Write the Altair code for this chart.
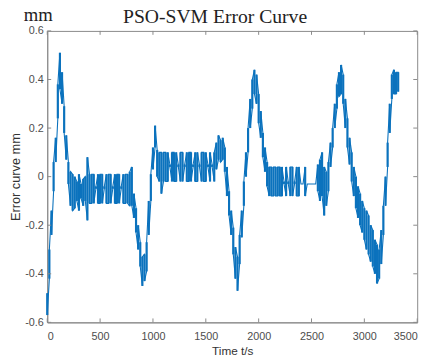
import altair as alt
import pandas as pd

# sample times (s)
time_s = [
    0, 20, 40, 60, 80, 100, 120, 140, 160, 180,
    200, 220, 240, 260, 280, 300, 320, 340, 360, 380,
    400, 420, 440, 460, 480, 500, 520, 540, 560, 580,
    600, 620, 640, 660, 680, 700, 720, 740, 760, 780,
    800, 820, 840, 860, 880, 900, 920, 940, 960, 980,
    1000, 1020, 1040, 1060, 1080, 1100, 1120, 1140, 1160, 1180,
    1200, 1220, 1240, 1260, 1280, 1300, 1320, 1340, 1360, 1380,
    1400, 1420, 1440, 1460, 1480, 1500, 1520, 1540, 1560, 1580,
    1600, 1620, 1640, 1660, 1680, 1700, 1720, 1740, 1760, 1780,
    1800, 1820, 1840, 1860, 1880, 1900, 1920, 1940, 1960, 1980,
    2000, 2020, 2040, 2060, 2080, 2100, 2120, 2140, 2160, 2180,
    2200, 2220, 2240, 2260, 2280, 2300, 2320, 2340, 2360, 2380,
    2400, 2420, 2440, 2460, 2480, 2500, 2520, 2540, 2560, 2580,
    2600, 2620, 2640, 2660, 2680, 2700, 2720, 2740, 2760, 2780,
    2800, 2820, 2840, 2860, 2880, 2900, 2920, 2940, 2960, 2980,
    3000, 3020, 3040, 3060, 3080, 3100, 3120, 3140, 3160, 3180,
    3200, 3220, 3240, 3260, 3280, 3300, 3320,
]

# lower swing of the error at each sample (mm)
err_low = [
    -0.57, -0.42, -0.24, -0.06, 0.06, 0.24, 0.36, 0.30, 0.18, 0.07,
    -0.03, -0.12, -0.14, -0.13, -0.10, -0.14, -0.09, -0.12, -0.10, -0.18,
    -0.11, -0.11, -0.11, -0.05, -0.11, -0.11, -0.11, -0.05, -0.11, -0.11,
    -0.11, -0.05, -0.11, -0.11, -0.11, -0.05, -0.11, -0.11, -0.11, -0.12,
    -0.12, -0.17, -0.23, -0.30, -0.37, -0.45, -0.43, -0.39, -0.24, -0.10,
    0.03, 0.12, 0.00, -0.02, -0.07, -0.02, -0.02, -0.02, 0.04, -0.02,
    -0.02, -0.02, 0.04, -0.02, -0.02, 0.04, -0.02, -0.02, -0.02, 0.04,
    -0.02, -0.02, 0.04, -0.02, -0.02, -0.02, 0.04, -0.02, 0.04, -0.02,
    0.03, 0.07, 0.06, 0.07, 0.02, -0.08, -0.16, -0.24, -0.32, -0.42,
    -0.47, -0.36, -0.25, -0.12, 0.00, 0.10, 0.20, 0.28, 0.34, 0.30,
    0.22, 0.16, 0.08, 0.02, -0.04, -0.08, -0.08, -0.08, -0.08, -0.08,
    -0.08, -0.08, -0.03, -0.08, -0.03, -0.08, -0.08, -0.03, -0.08, -0.08,
    -0.03, -0.03, -0.08, -0.03, -0.03, -0.03, -0.03, -0.03, -0.06, -0.10,
    -0.08, -0.16, -0.12, -0.06, 0.04, 0.12, 0.20, 0.28, 0.33, 0.34,
    0.30, 0.20, 0.12, 0.05, -0.02, -0.08, -0.13, -0.17, -0.20, -0.23,
    -0.26, -0.30, -0.32, -0.35, -0.37, -0.40, -0.44, -0.42, -0.36, -0.24,
    -0.12, 0.04, 0.18, 0.32, 0.34, 0.34, 0.35,
]

# upper swing of the error at each sample (mm)
err_high = [
    -0.48, -0.30, -0.14, 0.06, 0.16, 0.38, 0.51, 0.43, 0.29, 0.17,
    0.06, 0.02, 0.01, 0.00, -0.02, 0.01, -0.03, -0.01, 0.00, 0.08,
    0.01, 0.01, 0.01, -0.04, 0.01, 0.01, 0.01, -0.04, 0.01, 0.01,
    0.01, -0.04, 0.01, 0.01, 0.01, -0.04, 0.01, 0.01, 0.01, 0.02,
    0.04, -0.07, -0.13, -0.20, -0.27, -0.33, -0.32, -0.27, -0.10, 0.01,
    0.12, 0.21, 0.11, 0.10, 0.10, 0.10, 0.10, 0.10, 0.05, 0.10,
    0.10, 0.10, 0.05, 0.10, 0.10, 0.05, 0.10, 0.10, 0.10, 0.05,
    0.10, 0.10, 0.05, 0.10, 0.10, 0.10, 0.05, 0.10, 0.05, 0.10,
    0.14, 0.17, 0.15, 0.16, 0.12, 0.04, -0.06, -0.14, -0.21, -0.29,
    -0.33, -0.24, -0.14, -0.02, 0.10, 0.20, 0.32, 0.40, 0.44, 0.42,
    0.34, 0.27, 0.18, 0.12, 0.06, 0.04, 0.04, 0.04, 0.04, 0.04,
    0.04, 0.04, -0.02, 0.04, -0.02, 0.04, 0.04, -0.02, 0.04, 0.04,
    -0.03, -0.03, 0.04, -0.03, -0.03, -0.03, -0.03, -0.03, 0.05, 0.07,
    0.10, 0.04, 0.02, 0.06, 0.14, 0.20, 0.30, 0.38, 0.43, 0.46,
    0.42, 0.32, 0.24, 0.16, 0.10, 0.04, 0.00, -0.04, -0.07, -0.10,
    -0.13, -0.14, -0.16, -0.20, -0.22, -0.26, -0.28, -0.30, -0.22, -0.12,
    0.00, 0.14, 0.30, 0.42, 0.44, 0.43, 0.43,
]

x_ticks = [0, 500, 1000, 1500, 2000, 2500, 3000, 3500]
y_ticks = [-0.6, -0.4, -0.2, 0, 0.2, 0.4, 0.6]
title_text = "PSO-SVM Error Curve"
unit_text = "mm"

# zig-zag path through the swings (alternating order gives the square-wave look)
rows = []
k = 0
for i, (t, lo, hi) in enumerate(zip(time_s, err_low, err_high)):
    seq = (hi, lo) if i % 2 == 0 else (lo, hi)
    for v in seq:
        rows.append({"t": t, "v": v, "k": k})
        k += 1
df = pd.DataFrame(rows)
swing = pd.DataFrame({"t": time_s, "v": err_low, "v2": err_high})

W, H = 377, 297
BLUE = "#0b72bd"
FRAME = "#8a8a8a"
LABEL = "#4d4d4d"

xscale = alt.Scale(domain=[0, 3500], nice=False, zero=False)
yscale = alt.Scale(domain=[-0.6, 0.6], nice=False, zero=False)
xaxis = alt.Axis(values=x_ticks, format="d", title="Time t/s", ticks=False,
                 grid=False, labelPadding=8, titlePadding=5, titleFontSize=12)
yaxis = alt.Axis(values=y_ticks, title="Error curve mm", ticks=False, grid=False,
                 labelPadding=4, titlePadding=2, titleFontSize=13,
                 labelExpr="(datum.value < 0 ? '-' : '') + (datum.value == 0 ? '0' : format(abs(datum.value), '.1f'))")

X = alt.X("t:Q", scale=xscale, axis=xaxis)
Y = alt.Y("v:Q", scale=yscale, axis=yaxis)

line = alt.Chart(df).mark_line(color=BLUE, strokeWidth=1.1).encode(x=X, y=Y, order="k:Q")
bars = alt.Chart(swing).mark_rule(color=BLUE, strokeWidth=2.2).encode(x=X, y=Y, y2="v2:Q")

xt_df = pd.DataFrame({"t": x_ticks})
yt_df = pd.DataFrame({"v": y_ticks})

xt_bottom = alt.Chart(xt_df).mark_rule(color=FRAME, strokeWidth=1).encode(
    x=X, y=alt.value(H), y2=alt.value(H - 4))
xt_top = alt.Chart(xt_df).mark_rule(color=FRAME, strokeWidth=1).encode(
    x=X, y=alt.value(0), y2=alt.value(4))
yt_left = alt.Chart(yt_df).mark_rule(color=FRAME, strokeWidth=1).encode(
    y=Y, x=alt.value(0), x2=alt.value(4))
yt_right = alt.Chart(yt_df).mark_rule(color=FRAME, strokeWidth=1).encode(
    y=Y, x=alt.value(W), x2=alt.value(W - 4))

unit = alt.Chart(pd.DataFrame({"s": [unit_text]})).mark_text(
    font="Liberation Serif", fontSize=19, align="left", baseline="bottom", color="#222222"
).encode(x=alt.value(-24), y=alt.value(-6), text="s:N")

title = alt.Chart(pd.DataFrame({"s": [title_text]})).mark_text(
    font="Liberation Serif", fontSize=20, align="center", baseline="alphabetic", color="#222222"
).encode(x=alt.value(171), y=alt.value(-8), text="s:N")

chart = alt.layer(line, bars, xt_bottom, xt_top, yt_left, yt_right, unit, title).properties(
    width=W, height=H,
    autosize="none",
    padding={"left": 40, "top": 20, "right": 11, "bottom": 35},
).configure_view(stroke=FRAME, strokeWidth=1).configure_axis(
    labelFont="Liberation Sans", labelFontSize=11, labelColor=LABEL,
    titleFont="Liberation Sans", titleColor="#333333", titleFontWeight="normal",
    domainColor=FRAME, domainWidth=1,
)

chart.save("out.html", embed_options={"renderer": "svg", "actions": False})
